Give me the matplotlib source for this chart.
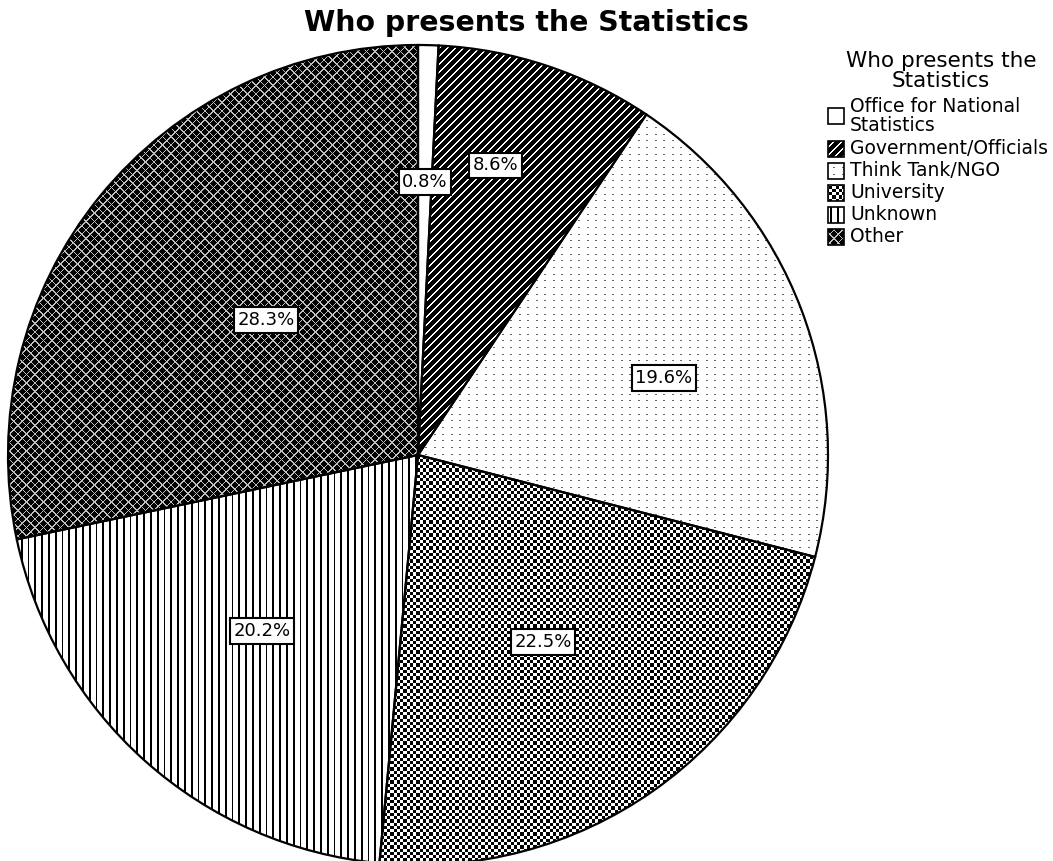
import numpy as np
import matplotlib.pyplot as plt
from matplotlib.patches import Rectangle

# Share of statistics by presenter (%)
categories = ['Office for National\nStatistics', 'Government/Officials', 'Think Tank/NGO',
              'University', 'Unknown', 'Other']
shares = [0.8, 8.6, 19.6, 22.5, 20.2, 28.3]

# Where each percentage box sits, as (dx, dy) in units of the radius
label_pos = [(0.017, 0.666), (0.188, 0.707), (0.600, 0.188),
             (0.305, -0.456), (-0.380, -0.429), (-0.371, 0.329)]

W, H = 1053, 861
fig = plt.figure(figsize=(W / 100, H / 100), dpi=100)
ax = fig.add_axes([0, 0, 1, 1])

# Black-and-white fill textures, one per slice (0 = black, 1 = white)
yy, xx = np.mgrid[0:H, 0:W]
tex_office = np.ones((H, W))
tex_gov = np.where((xx + yy) % 8 < 6, 0.0, 1.0)
tex_think = np.ones((H, W))
tex_think[((xx * 2) % 17 < 4) & ((yy * 3) % 20 < 3)] = 0.4
tex_uni = np.where((np.floor(xx / 3.25) + np.floor(yy / 3.25)) % 2 == 0, 0.0, 1.0)
tex_unknown = np.where((xx * 5) % 34 < 9, 0.0, 1.0)
tex_other = np.zeros((H, W))
tex_other[((xx + yy) * 2 % 17 < 3) | ((xx - yy) * 2 % 17 < 3)] = 0.75
textures = [tex_office, tex_gov, tex_think, tex_uni, tex_unknown, tex_other]

cx, cy, R = 418, H - 455, 410
wedges, _ = ax.pie(shares, center=(cx, cy), radius=R, startangle=90, counterclock=False,
                   wedgeprops=dict(facecolor='none', edgecolor='black', linewidth=1.6))

for w, tex in zip(wedges, textures):
    w.set_zorder(3)
    im = ax.imshow(tex, cmap='gray', vmin=0, vmax=1, extent=(0, W, 0, H),
                   origin='upper', interpolation='nearest', zorder=1)
    im.set_clip_path(w)

# Percentage boxes
for val, (dx, dy) in zip(shares, label_pos):
    ax.text(cx + dx * R, cy + dy * R, f'{val}%',
            ha='center', va='center', fontsize=13, zorder=5,
            bbox=dict(boxstyle='square,pad=0.2', facecolor='white',
                      edgecolor='black', linewidth=1.5))

ax.set_xlim(0, W)
ax.set_ylim(0, H)
ax.set_aspect('auto')
ax.axis('off')

fig.text(0.5, 1 - 23 / H, 'Who presents the Statistics', ha='center', va='center',
         fontsize=20.4, fontweight='bold')

# Legend
ax.text(941, H - 71, 'Who presents the\nStatistics', ha='center', va='center',
        fontsize=15.5, linespacing=1.0, zorder=5)
entry_y = [116, 149, 171, 193, 215, 237]
for name, tex, ey in zip(categories, textures, entry_y):
    box = Rectangle((828, H - ey - 8), 16, 16, facecolor='none', edgecolor='black',
                    linewidth=1.2, zorder=6)
    ax.add_patch(box)
    im = ax.imshow(tex, cmap='gray', vmin=0, vmax=1, extent=(0, W, 0, H),
                   origin='upper', interpolation='nearest', zorder=4)
    im.set_clip_path(box)
    ax.text(850, H - ey, name, ha='left', va='center', fontsize=13.5,
            linespacing=0.95, zorder=5)

fig.savefig('out.png', dpi=100)
